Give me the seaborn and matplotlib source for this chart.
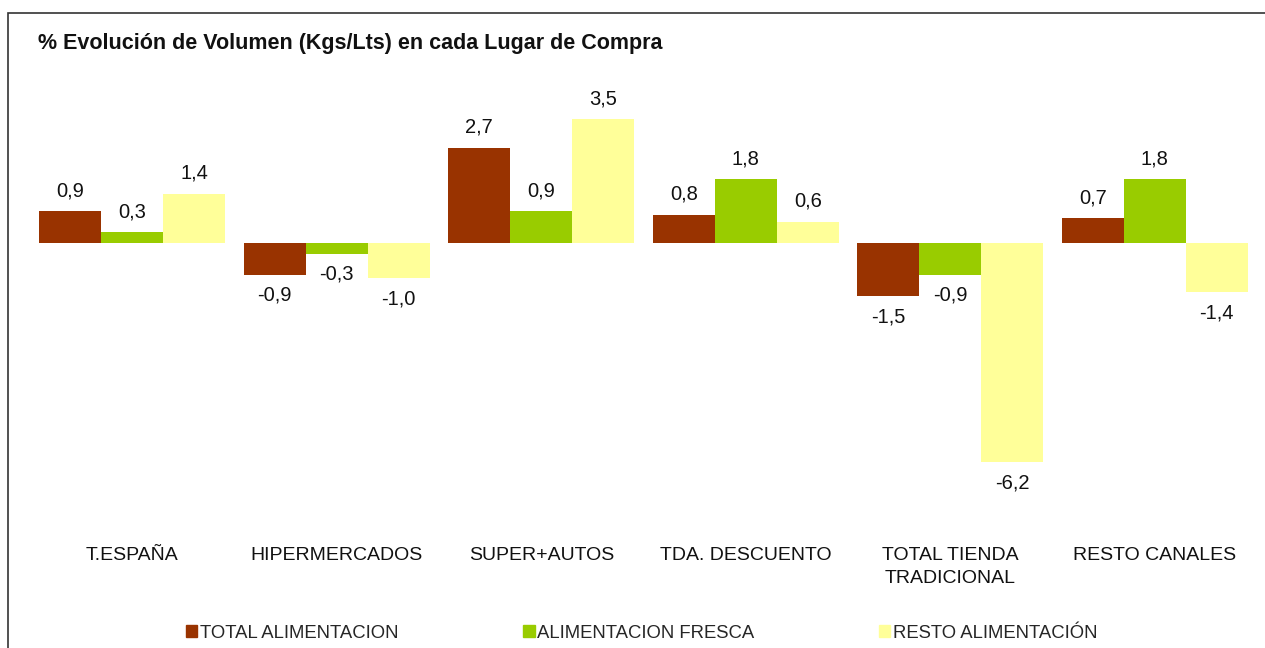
import pandas as pd
import matplotlib
matplotlib.use("Agg")
import matplotlib.pyplot as plt
import seaborn as sns
from matplotlib.patches import Rectangle

# datos del gráfico
lugares = ["T.ESPAÑA", "HIPERMERCADOS", "SUPER+AUTOS", "TDA. DESCUENTO",
           "TOTAL TIENDA\nTRADICIONAL", "RESTO CANALES"]
series = ["TOTAL ALIMENTACION", "ALIMENTACION FRESCA", "RESTO ALIMENTACIÓN"]
total_alim = [0.9, -0.9, 2.7, 0.8, -1.5, 0.7]
alim_fresca = [0.3, -0.3, 0.9, 1.8, -0.9, 1.8]
resto_alim = [1.4, -1.0, 3.5, 0.6, -6.2, -1.4]
colores = ["#993300", "#99CC00", "#FFFF99"]

df = pd.DataFrame({
    "lugar": lugares * 3,
    "serie": [series[0]] * 6 + [series[1]] * 6 + [series[2]] * 6,
    "valor": total_alim + alim_fresca + resto_alim,
})

sns.set_style("white")
plt.rcParams["font.family"] = ["Liberation Sans", "DejaVu Sans"]

fig = plt.figure(figsize=(12.65, 6.48), dpi=100)
ax = fig.add_axes([30 / 1265, 1 - 508 / 648, 1227 / 1265, 424 / 648])

sns.barplot(data=df, x="lugar", y="valor", hue="serie", hue_order=series,
            palette=colores, width=0.91, linewidth=0, saturation=1,
            ax=ax, legend=False)

ax.set_ylim(-7.5, 4.5)
ax.set_xlim(-0.5, 5.5)
ax.set_xlabel("")
ax.set_ylabel("")
ax.set_yticks([])
ax.tick_params(axis="x", length=0, pad=28, labelsize=14, labelcolor="#111111")
for s in ax.spines.values():
    s.set_visible(False)
for lbl in ax.get_xticklabels():
    lbl.set_verticalalignment("top")
    lbl.set_linespacing(1.45)

# etiquetas de valores
for c in ax.containers:
    etiquetas = [f"{b.get_height():.1f}".replace(".", ",") for b in c]
    ax.bar_label(c, labels=etiquetas, padding=8, fontsize=14.5, color="#111111")

# título
fig.text(38 / 1265, 1 - 43 / 648, "% Evolución de Volumen (Kgs/Lts) en cada Lugar de Compra",
         fontsize=15.5, fontweight="bold", ha="left", va="center", color="#111111")

# leyenda
handles = [Rectangle((0, 0), 1, 1, color=col) for col in colores]
fig.legend(handles, series, loc="center", bbox_to_anchor=(642 / 1265, 1 - 633 / 648),
           ncol=3, frameon=False, fontsize=13.3, handlelength=0.6, handleheight=0.6,
           handletextpad=0.15, columnspacing=6.75)

# marco del gráfico
fig.patches.append(Rectangle((8 / 1265, -0.1), 1.2, 1.1 - 13 / 648,
                             transform=fig.transFigure, fill=False,
                             edgecolor="#333333", linewidth=1.2, zorder=10))

fig.savefig("out.png", dpi=100)
